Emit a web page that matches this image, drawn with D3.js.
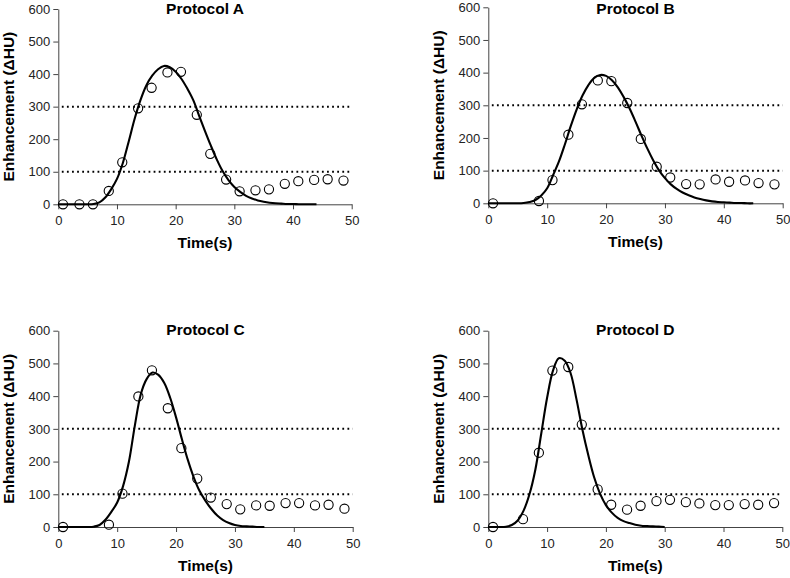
<!DOCTYPE html>
<html><head><meta charset="utf-8">
<script src="https://cdn.jsdelivr.net/npm/d3@7"></script>
<style>body{margin:0;background:#fff}svg{display:block}</style>
</head><body><svg id="chart" width="790" height="578"></svg>
<script>
// ---- data ----
const panelTitles = ["Protocol A", "Protocol B", "Protocol C", "Protocol D"];
const sampleTimes = [0.8, 3.6, 5.9, 8.6, 10.9, 13.6, 15.9, 18.6, 20.9, 23.6, 25.9, 28.6, 30.9, 33.6, 35.9, 38.6, 40.9, 43.6, 45.9, 48.6];
const valuesA = [0, 0, 0, 41, 129, 295, 358, 405, 407, 275, 155, 76, 40, 43, 46, 63, 71, 75, 77, 73];
const valuesB = [0, null, null, 7, 71, 210, 303, 376, 374, 307, 197, 112, 79, 59, 58, 73, 66, 70, 62, 58];
const valuesC = [0, null, null, 7, 102, 399, 479, 363, 241, 148, 90, 70, 54, 66, 65, 73, 73, 66, 68, 56];
const valuesD = [0, null, 24, 227, 478, 489, 313, 115, 68, 53, 65, 79, 83, 76, 72, 67, 67, 70, 68, 73];
const fitTimes = [0,1,2,3,4,5,6,7,8,9,10,11,12,13,14,15,16,17,18,19,20,21,22,23,24,25,26,27,28,29,30,31,32,33,34,35,36,37,38,39,40,41,42,43,44,45];
const fitA = [0,0,0,0,0,0,1,6,21,46,78,127,193,262,320,365,395,415,425,421,407,385,355,320,272,225,180,138,102,74,53,38,26,18,12,8,5,3,2,1,1,0,0,0,0];
const fitB = [0,0,0,0,0,0,1,4,10,24,46,86,128,180,236,287,330,362,384,393,390,377,355,325,290,250,208,168,132,101,77,58,44,33,25,18,13,9,6,4,3,2,1,1,0,0];
const fitC = [0,0,0,0,0,0,1,6,22,46,75,125,200,310,405,452,472,465,440,395,335,268,205,152,110,80,55,35,21,12,6,3,2,1,0,0];
const fitD = [0,0,0,1,6,20,50,100,175,285,395,478,516,508,470,390,298,220,152,102,67,44,28,18,12,7,4,3,2,1,0];
const thresholds = [100, 300];
const xTicks = [0, 10, 20, 30, 40, 50];
const yTicks = [0, 100, 200, 300, 400, 500, 600];
const xLabel = "Time(s)";
const yLabel = "Enhancement (\u0394HU)";

// ---- layout ----
const seriesValues = [valuesA, valuesB, valuesC, valuesD];
const seriesFits = [fitA, fitB, fitC, fitD];
const frames = [
  {x0: 58.3, x1: 351.7, y0: 204.3, y1: 9},
  {x0: 488.3, x1: 782.7, y0: 203.3, y1: 7.3},
  {x0: 58.3, x1: 352.7, y0: 527, y1: 330.7},
  {x0: 488.3, x1: 782.3, y0: 527, y1: 330.7}
];
const FONT = "'Liberation Sans', Arial, Helvetica, sans-serif";
const svg = d3.select("#chart");

frames.forEach((f, i) => {
  const x = d3.scaleLinear().domain([0, 50]).range([f.x0, f.x1]);
  const y = d3.scaleLinear().domain([0, 600]).range([f.y0, f.y1]);
  const g = svg.append("g");

  // threshold dotted lines
  g.selectAll("line.thr").data(thresholds).join("line")
    .attr("x1", x(0.6)).attr("x2", x(50))
    .attr("y1", d => y(d)).attr("y2", d => y(d))
    .attr("stroke", "#000").attr("stroke-width", 2)
    .attr("stroke-dasharray", "1.8,3.3");

  // axes
  const ax = g.append("g").attr("transform", `translate(0,${f.y0})`)
    .call(d3.axisBottom(x).tickValues(xTicks).tickSize(5).tickSizeOuter(0).tickPadding(6.5));
  const ay = g.append("g").attr("transform", `translate(${f.x0},0)`)
    .call(d3.axisLeft(y).tickValues(yTicks).tickSize(5).tickSizeOuter(0).tickPadding(3));
  [ax, ay].forEach(a => {
    a.selectAll("path,line").attr("stroke", "#444").attr("stroke-width", 1);
    a.selectAll("text").attr("font-family", FONT).attr("font-size", 13).attr("fill", "#222");
  });

  // fitted curve
  const fit = seriesFits[i];
  const pts = fit.map((v, k) => [fitTimes[k], v]);
  g.append("path").datum(pts)
    .attr("fill", "none").attr("stroke", "#000").attr("stroke-width", 2.1)
    .attr("d", d3.line().x(d => x(d[0])).y(d => y(d[1])).curve(d3.curveCatmullRom.alpha(0.5)));

  // data points
  const vals = seriesValues[i];
  const data = sampleTimes.map((t, k) => ({t, v: vals[k]})).filter(d => d.v !== null);
  g.selectAll("circle").data(data).join("circle")
    .attr("cx", d => x(d.t)).attr("cy", d => y(d.v)).attr("r", 4.6)
    .attr("fill", "none").attr("stroke", "#000").attr("stroke-width", 1.1);

  // titles and labels
  g.append("text").attr("x", (f.x0 + f.x1) / 2).attr("y", Math.max(f.y1 + 4.5, 13.5))
    .attr("text-anchor", "middle").attr("font-family", FONT).attr("font-weight", "bold")
    .attr("font-size", 15.5).attr("fill", "#000").text(panelTitles[i]);
  g.append("text").attr("x", (f.x0 + f.x1) / 2).attr("y", f.y0 + 44)
    .attr("text-anchor", "middle").attr("font-family", FONT).attr("font-weight", "bold")
    .attr("font-size", 15.5).attr("fill", "#000").text(xLabel);
  g.append("text")
    .attr("transform", `translate(${f.x0 - 44.5},${(f.y0 + f.y1) / 2}) rotate(-90)`)
    .attr("text-anchor", "middle").attr("font-family", FONT).attr("font-weight", "bold")
    .attr("font-size", 15.5).attr("fill", "#000").text(yLabel);
});
</script></body></html>
